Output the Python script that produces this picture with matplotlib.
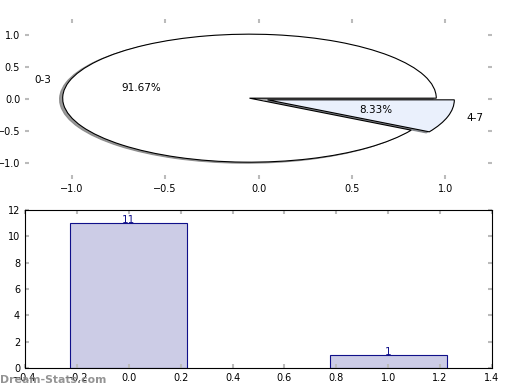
import numpy as np
import matplotlib
matplotlib.use('Agg')
import matplotlib.pyplot as plt

labels = ['0-3', '4-7']
counts = [11, 1]
explode = [0.05, 0.05]
pie_colors = ['white', '#eaf0fc']
bar_x = [0, 1]

plt.rcParams['font.size'] = 7

fig = plt.figure(figsize=(5.2, 3.9), dpi=100)

# Pie (stretched, no frame)
ax1 = fig.add_axes([25/520, 1 - 179/390, 467/520, 160/390])
ax1.pie(counts, labels=labels, explode=explode, colors=pie_colors,
        autopct='%1.2f%%',
        shadow={'ox': -0.012, 'oy': -0.012, 'shade': 0.5, 'alpha': 0.8},
        wedgeprops=dict(edgecolor='black', linewidth=0.8),
        textprops=dict(fontsize=7.5))
ax1.set_aspect('auto')
ax1.set_frame_on(False)
ax1.set_xlim(-1.25, 1.25)
ax1.set_ylim(-1.25, 1.25)
ax1.set_xticks([-1.0, -0.5, 0.0, 0.5, 1.0])
ax1.set_yticks([-1.0, -0.5, 0.0, 0.5, 1.0])
ax1.tick_params(direction='in', top=True, right=True, color='#bbbbbb',
                width=1.5, length=3, labelsize=7)

# Bars
ax2 = fig.add_axes([25/520, 22/390, 467/520, 158/390])
bars = ax2.bar(bar_x, counts, width=0.45, color='#cccce6',
               edgecolor='#10108a', linewidth=0.8)
for b, c in zip(bars, counts):
    ax2.text(b.get_x() + b.get_width()/2, c + 0.25, str(c), ha='center',
             va='center', color='#10108a', fontsize=7.5)
ax2.set_xlim(-0.4, 1.4)
ax2.set_ylim(0, 12)
ax2.set_xticks(np.arange(-0.4, 1.41, 0.2))
ax2.set_yticks(range(0, 13, 2))
ax2.tick_params(direction='in', top=True, right=True, color='#bbbbbb',
                width=1.5, length=3, labelsize=7)

fig.text(0.0, 0.018, 'Dream-Stats.com', color='#888888', fontsize=7.8,
         fontweight='bold', alpha=0.9)

fig.savefig('out.png', dpi=100)
